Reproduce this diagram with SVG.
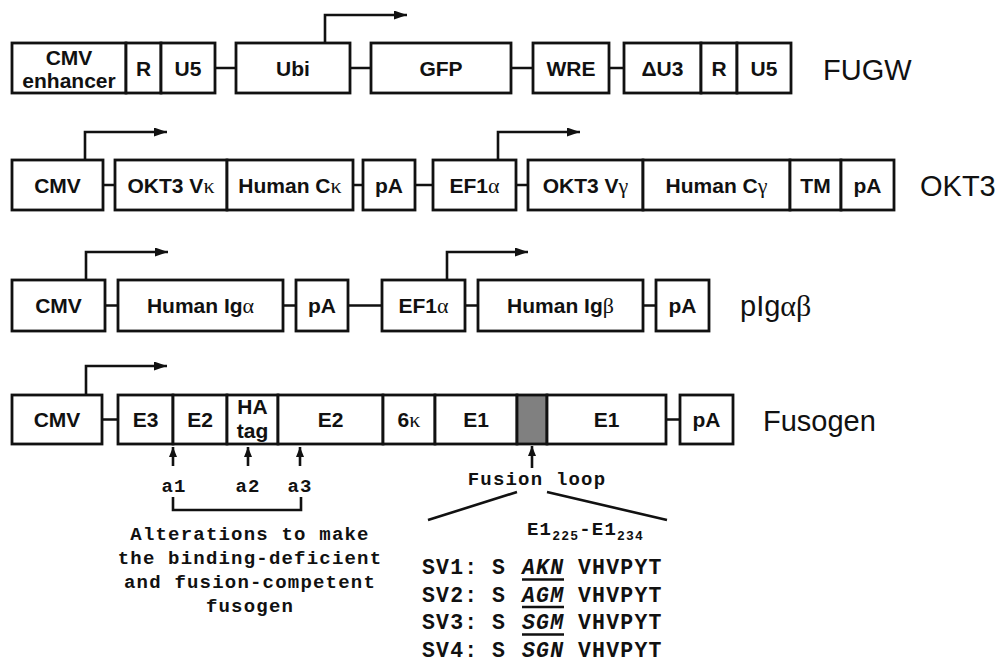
<svg xmlns="http://www.w3.org/2000/svg" width="999" height="662" viewBox="0 0 999 662">
<style>
.box{fill:#fff;stroke:#111;stroke-width:2.8}
.gray{fill:#808080;stroke:#111;stroke-width:2.8}
.conn{stroke:#111;stroke-width:2.6;fill:none}
.lbl{font-family:"Liberation Sans",Arial,sans-serif;font-weight:bold;font-size:21px;fill:#111;text-anchor:middle}
.name{font-family:"Liberation Sans",Arial,sans-serif;font-size:29px;fill:#111}
.mono{font-family:"Liberation Mono","Courier New",monospace;font-weight:bold;font-size:19px;letter-spacing:1.2px;fill:#111}
.sv{font-family:"Liberation Mono","Courier New",monospace;font-weight:bold;font-size:21.5px;letter-spacing:1.2px;fill:#111}
.it{font-style:italic}
.gk{font-family:"Liberation Serif","Times New Roman",serif;font-weight:normal;font-size:22px}
.gkn{font-family:"Liberation Serif","Times New Roman",serif;font-weight:normal;font-size:30px}
.c{text-anchor:middle}
</style>
<defs>
<marker id="ah" markerUnits="userSpaceOnUse" markerWidth="14" markerHeight="9" refX="13" refY="4.5" orient="auto">
<path d="M0,0 L13,4.5 L0,9 z" fill="#111"/>
</marker>
<marker id="ahs" markerUnits="userSpaceOnUse" markerWidth="11" markerHeight="8" refX="10" refY="4" orient="auto">
<path d="M0,0 L10,4 L0,8 z" fill="#111"/>
</marker>
</defs>
<rect width="999" height="662" fill="#fff"/>

<g id="connectors">
<path class="conn" d="M215,68H236M350,68H371M511,68H533M609,68H624"/>
<path class="conn" d="M325,43V15H407" marker-end="url(#ah)"/>
<path class="conn" d="M103,185H115M353,185H363M415,185H433M516,185H528"/>
<path class="conn" d="M85,160V132H167" marker-end="url(#ah)"/>
<path class="conn" d="M498,160V132H580" marker-end="url(#ah)"/>
<path class="conn" d="M105,305.5H118M283,305.5H296M348,305.5H382M465,305.5H478M643,305.5H656"/>
<path class="conn" d="M86,280V252H168" marker-end="url(#ah)"/>
<path class="conn" d="M447,280V252H528" marker-end="url(#ah)"/>
<path class="conn" d="M102,419.5H118M666,419.5H680"/>
<path class="conn" d="M86,395V366H167" marker-end="url(#ah)"/>
<path class="conn" d="M173,466V447" marker-end="url(#ahs)"/>
<path class="conn" d="M248,466V447" marker-end="url(#ahs)"/>
<path class="conn" d="M300,466V447" marker-end="url(#ahs)"/>
<path class="conn" d="M173,497V510H301V497"/>
<path class="conn" d="M532,468V446" marker-end="url(#ahs)"/>
<path class="conn" d="M517,492L428,520M547,492L667,520"/>
</g>

<!-- Row 1 FUGW -->
<g id="fugw-cmv-enhancer"><rect class="box" x="12" y="43" width="114" height="50"/><text class="lbl" x="69" y="65">CMV</text><text class="lbl" x="69" y="88">enhancer</text></g>
<g id="fugw-r1"><rect class="box" x="126" y="43" width="35" height="50"/><text class="lbl" x="143.5" y="75.5">R</text></g>
<g id="fugw-u5a"><rect class="box" x="161" y="43" width="54" height="50"/><text class="lbl" x="188" y="75.5">U5</text></g>
<g id="fugw-ubi"><rect class="box" x="236" y="43" width="114" height="50"/><text class="lbl" x="293" y="75.5">Ubi</text></g>
<g id="fugw-gfp"><rect class="box" x="371" y="43" width="140" height="50"/><text class="lbl" x="441" y="75.5">GFP</text></g>
<g id="fugw-wre"><rect class="box" x="533" y="43" width="76" height="50"/><text class="lbl" x="571" y="75.5">WRE</text></g>
<g id="fugw-du3"><rect class="box" x="624" y="43" width="77" height="50"/><text class="lbl" x="662.5" y="75.5">ΔU3</text></g>
<g id="fugw-r2"><rect class="box" x="701" y="43" width="36" height="50"/><text class="lbl" x="719" y="75.5">R</text></g>
<g id="fugw-u5b"><rect class="box" x="737" y="43" width="54" height="50"/><text class="lbl" x="764" y="75.5">U5</text></g>
<g id="fugw-name"><text class="name" x="823" y="80">FUGW</text></g>

<!-- Row 2 OKT3 -->
<g id="okt3-cmv"><rect class="box" x="12" y="160" width="91" height="50"/><text class="lbl" x="57.5" y="192.5">CMV</text></g>
<g id="okt3-vk"><rect class="box" x="115" y="160" width="112" height="50"/><text class="lbl" x="171" y="192.5">OKT3 V<tspan class="gk">κ</tspan></text></g>
<g id="okt3-ck"><rect class="box" x="227" y="160" width="126" height="50"/><text class="lbl" x="290" y="192.5">Human C<tspan class="gk">κ</tspan></text></g>
<g id="okt3-pa1"><rect class="box" x="363" y="160" width="52" height="50"/><text class="lbl" x="389" y="192.5">pA</text></g>
<g id="okt3-ef1a"><rect class="box" x="433" y="160" width="83" height="50"/><text class="lbl" x="474.5" y="192.5">EF1<tspan class="gk">α</tspan></text></g>
<g id="okt3-vg"><rect class="box" x="528" y="160" width="115" height="50"/><text class="lbl" x="585.5" y="192.5">OKT3 V<tspan class="gk">γ</tspan></text></g>
<g id="okt3-cg"><rect class="box" x="643" y="160" width="147" height="50"/><text class="lbl" x="716.5" y="192.5">Human C<tspan class="gk">γ</tspan></text></g>
<g id="okt3-tm"><rect class="box" x="790" y="160" width="51" height="50"/><text class="lbl" x="815.5" y="192.5">TM</text></g>
<g id="okt3-pa2"><rect class="box" x="841" y="160" width="53" height="50"/><text class="lbl" x="867.5" y="192.5">pA</text></g>
<g id="okt3-name"><text class="name" x="920" y="196">OKT3</text></g>

<!-- Row 3 pIgab -->
<g id="pig-cmv"><rect class="box" x="12" y="280" width="93" height="51"/><text class="lbl" x="58.5" y="313">CMV</text></g>
<g id="pig-iga"><rect class="box" x="118" y="280" width="165" height="51"/><text class="lbl" x="200.5" y="313">Human Ig<tspan class="gk">α</tspan></text></g>
<g id="pig-pa1"><rect class="box" x="296" y="280" width="52" height="51"/><text class="lbl" x="322" y="313">pA</text></g>
<g id="pig-ef1a"><rect class="box" x="382" y="280" width="83" height="51"/><text class="lbl" x="423.5" y="313">EF1<tspan class="gk">α</tspan></text></g>
<g id="pig-igb"><rect class="box" x="478" y="280" width="165" height="51"/><text class="lbl" x="560.5" y="313">Human Ig<tspan class="gk">β</tspan></text></g>
<g id="pig-pa2"><rect class="box" x="656" y="280" width="53" height="51"/><text class="lbl" x="682.5" y="313">pA</text></g>
<g id="pig-name"><text class="name" x="740" y="316">pIg<tspan class="gkn">αβ</tspan></text></g>

<!-- Row 4 Fusogen -->
<g id="fus-cmv"><rect class="box" x="12" y="395" width="90" height="49"/><text class="lbl" x="57" y="427">CMV</text></g>
<g id="fus-e3"><rect class="box" x="118" y="395" width="55" height="49"/><text class="lbl" x="145.5" y="427">E3</text></g>
<g id="fus-e2a"><rect class="box" x="173" y="395" width="54" height="49"/><text class="lbl" x="200" y="427">E2</text></g>
<g id="fus-ha"><rect class="box" x="227" y="395" width="51" height="49"/><text class="lbl" x="252.5" y="414">HA</text><text class="lbl" x="252.5" y="438">tag</text></g>
<g id="fus-e2b"><rect class="box" x="278" y="395" width="105" height="49"/><text class="lbl" x="330.5" y="427">E2</text></g>
<g id="fus-6k"><rect class="box" x="383" y="395" width="52" height="49"/><text class="lbl" x="409" y="427">6<tspan class="gk">κ</tspan></text></g>
<g id="fus-e1a"><rect class="box" x="435" y="395" width="82" height="49"/><text class="lbl" x="476" y="427">E1</text></g>
<g id="fus-loop"><rect class="gray" x="517" y="395" width="30" height="49"/></g>
<g id="fus-e1b"><rect class="box" x="547" y="395" width="119" height="49"/><text class="lbl" x="606.5" y="427">E1</text></g>
<g id="fus-pa"><rect class="box" x="680" y="395" width="53" height="49"/><text class="lbl" x="706.5" y="427">pA</text></g>
<g id="fus-name"><text class="name" x="763" y="431">Fusogen</text></g>

<!-- annotations -->
<g id="alterations">
<text class="mono c" x="174" y="492">a1</text>
<text class="mono c" x="248" y="492">a2</text>
<text class="mono c" x="300" y="492">a3</text>
<text class="mono c" x="250" y="540">Alterations to make</text>
<text class="mono c" x="250" y="564">the binding-deficient</text>
<text class="mono c" x="250" y="588">and fusion-competent</text>
<text class="mono c" x="250" y="612">fusogen</text>
</g>
<g id="fusion-loop-label">
<text class="mono c" x="537" y="485">Fusion loop</text>
<text class="mono" x="527" y="535">E1<tspan font-size="13" dy="5">225</tspan><tspan dy="-5">-E1</tspan><tspan font-size="13" dy="5">234</tspan></text>
</g>
<g id="sequences">
<text class="sv" x="422" y="574">SV1:</text><text class="sv" x="492" y="574">S</text><text class="sv it" x="522" y="574">AKN</text><text class="sv" x="578" y="574">VHVPYT</text>
<text class="sv" x="422" y="601.5">SV2:</text><text class="sv" x="492" y="601.5">S</text><text class="sv it" x="522" y="601.5">AGM</text><text class="sv" x="578" y="601.5">VHVPYT</text>
<text class="sv" x="422" y="629">SV3:</text><text class="sv" x="492" y="629">S</text><text class="sv it" x="522" y="629">SGM</text><text class="sv" x="578" y="629">VHVPYT</text>
<text class="sv" x="422" y="656.5">SV4:</text><text class="sv" x="492" y="656.5">S</text><text class="sv it" x="522" y="656.5">SGN</text><text class="sv" x="578" y="656.5">VHVPYT</text>
<path class="conn" stroke-width="3" d="M522,579.5H564M522,607H564M522,634.5H564"/>
</g>
</svg>
